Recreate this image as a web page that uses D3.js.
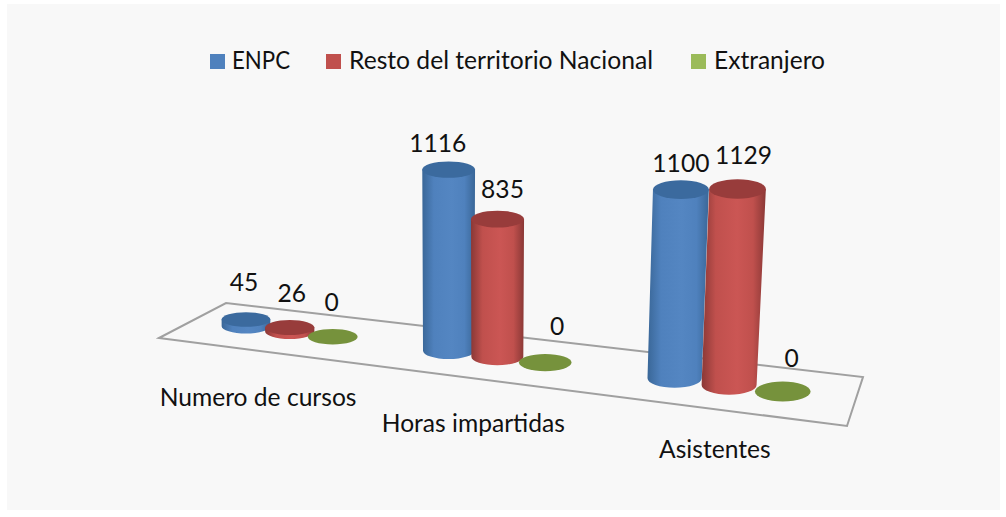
<!DOCTYPE html>
<html>
<head>
<meta charset="utf-8">
<script src="https://cdn.jsdelivr.net/npm/d3@7"></script>
<style>
html, body { margin: 0; padding: 0; background: #fff; }
svg { display: block; }
text { font-family: Lato, "Open Sans", sans-serif; fill: #111; }
</style>
</head>
<body>
<script>
// values
var categories = ["Numero de cursos", "Horas impartidas", "Asistentes"];
var seriesNames = ["ENPC", "Resto del territorio Nacional", "Extranjero"];
var enpc = [45, 1116, 1100];
var resto = [26, 835, 1129];
var extranjero = [0, 0, 0];
var seriesValues = [enpc, resto, extranjero];

// layout
var width = 1006, height = 517;
var fontSize = 24.6;
var labelNudge = [[[-2, -28], [2, -26], [-1, -26]], [[-11, -18], [5, -21], [12, -28]], [[0, -18], [6, -25], [9, -24]]];
var categoryNudge = [55, 54, 49];
var legendSwatchX = [210, 326, 691];
var legendTextX = [232, 349, 714];
var legendTextW = [58, 304, 111];

// corners of the floor on screen: front-left, front-right, back-right, back-left
var floorCorners = [[159, 338], [847, 426], [863, 377], [226, 303]];

var c0 = floorCorners[0], c1 = floorCorners[1], c2 = floorCorners[2], c3 = floorCorners[3];
var sx = c0[0]-c1[0]+c2[0]-c3[0], sy = c0[1]-c1[1]+c2[1]-c3[1];
var dx1 = c1[0]-c2[0], dx2 = c3[0]-c2[0], dy1 = c1[1]-c2[1], dy2 = c3[1]-c2[1];
var det = dx1*dy2 - dx2*dy1;
var g = (sx*dy2 - dx2*sy)/det;
var h = (dx1*sy - sx*dy1)/det;

function weight(u, v) { return 1 + g*u + h*v; }
function project(u, v) {
    var w = weight(u, v);
    return [
        ((c1[0]-c0[0]+g*c1[0])*u + (c3[0]-c0[0]+h*c3[0])*v + c0[0])/w,
        ((c1[1]-c0[1]+g*c1[1])*u + (c3[1]-c0[1]+h*c3[1])*v + c0[1])/w
    ];
}

var uCategory = d3.scaleBand().domain(d3.range(categories.length)).range([0, 1]);
var uSeries = d3.scaleOrdinal().domain(d3.range(seriesNames.length)).range([-0.075, 0, 0.072]);
var unitHeight = d3.scaleLinear().domain([0.1, 0.45, 0.83]).range([0.148, 0.1635, 0.1735]);
var radiusY = d3.scaleLinear().domain([0.239, 0.573, 0.906]).range([7.7, 8.6, 10]);

var svg = d3.select("body").append("svg").attr("width", width).attr("height", height);
var defs = svg.append("defs");

var colors = [
    {name: "blue", edge: "#3a6798", mid: "#4f81bd", light: "#5486c2", top: "#3b6a9e", swatch: "#4f81bd"},
    {name: "red", edge: "#8a3836", mid: "#c0504d", light: "#cb5654", top: "#983c3b", swatch: "#c0504d"},
    {name: "green", edge: "#76923c", mid: "#76923c", light: "#76923c", top: "#76923c", swatch: "#9bbb59"}
];

colors.forEach((c) => {
    var grad = defs.append("linearGradient").attr("id", "body-" + c.name);
    grad.append("stop").attr("offset", "0%").attr("stop-color", c.edge);
    grad.append("stop").attr("offset", "22%").attr("stop-color", c.mid);
    grad.append("stop").attr("offset", "55%").attr("stop-color", c.light);
    grad.append("stop").attr("offset", "80%").attr("stop-color", c.mid);
    grad.append("stop").attr("offset", "100%").attr("stop-color", c.edge);
});

svg.append("rect").attr("x", 7).attr("y", 4).attr("width", 993).attr("height", 506).attr("fill", "#f8f8f8");

svg.append("polygon")
    .attr("points", floorCorners.map((p) => p.join(",")).join(" "))
    .attr("fill", "none")
    .attr("stroke", "#a0a0a0")
    .attr("stroke-width", 2);

categories.forEach((cat, ci) => {
    var uc = uCategory(ci) + uCategory.bandwidth()/2;

    seriesNames.forEach((s, si) => {
        var value = seriesValues[si][ci];
        var u = uc + uSeries(si);
        var base = project(u, 0.5);
        var w = weight(u, 0.5);
        var rx = 25/w, ry = radiusY(u);
        var color = colors[si];
        var bar = svg.append("g");

        if(value > 0) {
            var barH = value*unitHeight(u);
            var lean = barH*(base[0]-490)*0.00018;
            if(lean < 0) lean = 0;
            var topX = base[0] + lean, topY = base[1] - barH;
            var topRx = rx*(1 + 0.03*barH/190);

            bar.append("path")
                .attr("d", "M" + (base[0]-rx) + "," + base[1]
                    + "L" + (topX-topRx) + "," + topY
                    + "L" + (topX+topRx) + "," + topY
                    + "L" + (base[0]+rx) + "," + base[1]
                    + "A" + rx + "," + ry + " 0 0 1 " + (base[0]-rx) + "," + base[1] + "Z")
                .attr("fill", "url(#body-" + color.name + ")");

            bar.append("ellipse")
                .attr("cx", topX).attr("cy", topY)
                .attr("rx", topRx).attr("ry", ry)
                .attr("fill", color.top);

            base = [topX, topY];
        } else {
            bar.append("ellipse")
                .attr("cx", base[0]).attr("cy", base[1])
                .attr("rx", rx).attr("ry", ry)
                .attr("fill", color.top);
        }

        var nudge = labelNudge[ci][si];
        svg.append("text")
            .attr("class", "value-label")
            .attr("x", base[0] + nudge[0])
            .attr("y", base[1] + nudge[1])
            .attr("text-anchor", "middle")
            .attr("font-size", fontSize)
            .text(value);
    });

    var front = project(uc, 0);
    svg.append("text")
        .attr("x", front[0])
        .attr("y", front[1] + categoryNudge[ci])
        .attr("text-anchor", "middle")
        .attr("font-size", fontSize)
        .text(cat);
});

// value labels go above the bars
svg.selectAll(".value-label").raise();

seriesNames.forEach((s, si) => {
    svg.append("rect")
        .attr("x", legendSwatchX[si]).attr("y", 54)
        .attr("width", 15).attr("height", 15)
        .attr("fill", colors[si].swatch);
    svg.append("text")
        .attr("x", legendTextX[si]).attr("y", 69)
        .attr("font-size", fontSize)
        .attr("textLength", legendTextW[si])
        .attr("lengthAdjust", "spacingAndGlyphs")
        .text(s);
});
</script>
</body>
</html>
